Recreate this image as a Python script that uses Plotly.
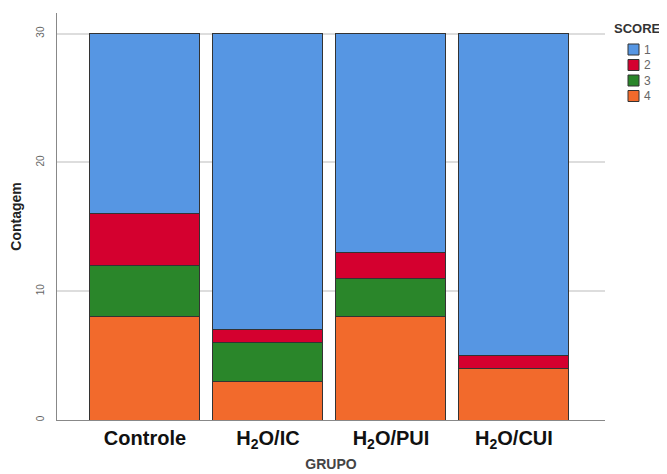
import plotly.graph_objects as go

groups = ["Controle", "H<sub>2</sub>O/IC", "H<sub>2</sub>O/PUI", "H<sub>2</sub>O/CUI"]
score_names = ["1", "2", "3", "4"]
score1 = [14, 23, 17, 25]
score2 = [4, 1, 2, 1]
score3 = [4, 3, 3, 0]
score4 = [8, 3, 8, 4]
y_ticks = [0, 10, 20, 30]

colors = {"1": "#5696E3", "2": "#D4002F", "3": "#2A862A", "4": "#F26A2C"}
series = {"1": score1, "2": score2, "3": score3, "4": score4}

# Figure geometry (browser body adds an 8px offset)
W, H = 659, 466
L, R, T, B = 49, 62, 5, 54
PW, PH = W - L - R, H - T - B

def px_x(x):
    return (x - L) / PW

def px_y(y):
    return (H - B - y) / PH

fig = go.Figure()
for name in ["4", "3", "2", "1"]:
    fig.add_trace(go.Bar(
        x=list(range(len(groups))), y=series[name], name=name,
        marker=dict(color=colors[name], line=dict(color="#333333", width=1)),
        width=0.894, showlegend=False,
    ))

# Manual compact legend
shapes = []
annotations = [dict(
    text="<b>SCORE</b>", x=px_x(629), y=px_y(20), xref="paper", yref="paper",
    showarrow=False, font=dict(size=13, color="#333333"), xanchor="center", yanchor="middle",
)]
legend_y = [41.5, 57, 72.5, 88]
for name, yc in zip(score_names, legend_y):
    shapes.append(dict(
        type="rect", xref="paper", yref="paper",
        x0=px_x(620), x1=px_x(631), y0=px_y(yc - 5.5), y1=px_y(yc + 5.5),
        fillcolor=colors[name], line=dict(color="#333333", width=1),
    ))
    annotations.append(dict(
        text=name, x=px_x(634), y=px_y(yc), xref="paper", yref="paper",
        showarrow=False, font=dict(size=12, color="#666666"), xanchor="left", yanchor="middle",
    ))

fig.update_layout(
    barmode="stack",
    width=W, height=H,
    margin=dict(l=L, r=R, t=T, b=B, autoexpand=False),
    plot_bgcolor="white", paper_bgcolor="white",
    font=dict(family="Liberation Sans, Arial, sans-serif"),
    showlegend=False,
    shapes=shapes,
    annotations=annotations,
    xaxis=dict(
        tickmode="array", tickvals=list(range(len(groups))), ticktext=["<b>" + g + "</b>" for g in groups],
        range=[-0.715, 3.74],
        tickfont=dict(size=20, color="#111111"),
        showline=True, linecolor="#888888", linewidth=1,
        ticks="", showgrid=False,
        title=dict(text="<b>GRUPO</b>", font=dict(size=14, color="#444444"), standoff=7),
    ),
    yaxis=dict(
        range=[0, 31.6],
        tickvals=y_ticks,
        tickangle=-90,
        tickfont=dict(size=10, color="#666666"),
        ticklabelstandoff=8,
        showline=True, linecolor="#888888", linewidth=1,
        showgrid=True, gridcolor="#DDDDDD", gridwidth=1.5,
        zeroline=False, ticks="",
        title=dict(text="<b>Contagem</b>", font=dict(size=14, color="#222222"), standoff=14),
    ),
)

fig.write_html("out.html")
